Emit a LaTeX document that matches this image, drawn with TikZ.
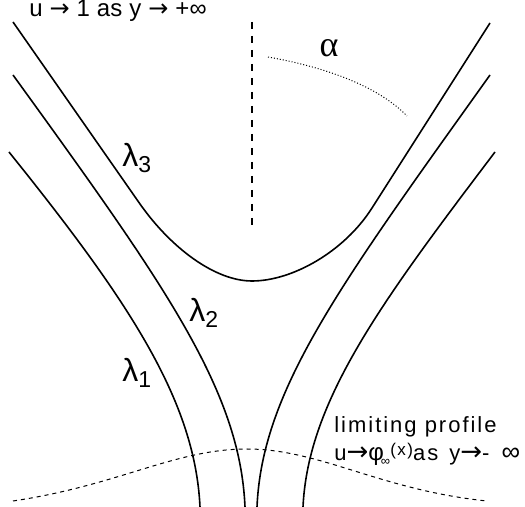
\documentclass[tikz,border=0pt]{standalone}
\usepackage{fontspec}
\usepackage{tikz}
\setmainfont{Liberation Sans}
\newfontfamily\lblfont{Liberation Sans}[LetterSpace=9]
\newfontfamily\topfont{Liberation Sans}[LetterSpace=1]
\newfontfamily\arrfont{DejaVu Sans}
\newfontfamily\grkfont{Liberation Serif}
\newcommand{\toarr}{{\arrfont →}}
\newcommand{\bigarr}{{\arrfont\fontsize{13}{14}\selectfont →}}

\begin{document}
\begin{tikzpicture}[x=0.5pt, y=-0.5pt,
        curve/.style={line width=0.8pt},
        axisline/.style={line width=0.6pt, dash pattern=on 3.5pt off 3.5pt},
        anglearc/.style={line width=0.5pt, dash pattern=on 0.5pt off 1pt},
        profile/.style={line width=0.5pt, dash pattern=on 2pt off 2pt},
        txt/.style={font=\lblfont\fontsize{11}{13}\selectfont, inner sep=0pt},
        lam/.style={font=\fontsize{16}{18}\selectfont, inner sep=0pt, anchor=base west}
    ]
    \useasboundingbox (0,0) rectangle (525,507);

    % ---- LEVEL CURVES ----
    \begin{scope}
        % lambda_3: the U shaped one
        \draw[curve] (13,22) -- (140,204) .. controls (171,248) and (215,281) .. (252,281)
            .. controls (292,281) and (344,252) .. (372,208) -- (490,23);
        % lambda_2
        \draw[curve] (13,75) .. controls (165,285) and (240,390) .. (245,507);
        \draw[curve] (490,75) .. controls (340,285) and (262,390) .. (257,507);
        % lambda_1
        \draw[curve] (9,152) .. controls (128,300) and (195,400) .. (200,507);
        \draw[curve] (495,152) .. controls (383,300) and (308,400) .. (303,507);
    \end{scope}

    % ---- AXIS, ANGLE AND PROFILE ----
    \begin{scope}
        \draw[axisline] (252,22) -- (252,228);
        \draw[anglearc] (268,57) .. controls (330,68) and (380,88) .. (407,116);
        \draw[profile] (13,501) .. controls (120,485) and (175,449) .. (247,449)
            .. controls (320,449) and (380,490) .. (487,501);
    \end{scope}

    % ---- LABELS ----
    \node[inner sep=0pt, anchor=base west, font=\topfont\fontsize{12}{14}\selectfont] (top) at (29,17) {u \toarr{} 1 as y \toarr{} +∞};
    \node[lam] (l3) at (122,167) {λ\raisebox{-3pt}{\fontsize{11.5}{13}\selectfont 3}};
    \node[lam] (l2) at (189,322) {λ\raisebox{-3pt}{\fontsize{11.5}{13}\selectfont 2}};
    \node[lam] (l1) at (122,382) {λ\raisebox{-3pt}{\fontsize{11.5}{13}\selectfont 1}};
    \node[inner sep=0pt, font=\grkfont\fontsize{18}{20}\selectfont] (alpha) at (329,48) {α};
    \node[txt, anchor=base west] (lim1) at (334,433) {limiting profile};
    \node[txt, anchor=base west] (lim2) at (334,461)
        {u\bigarr{\fontsize{12}{13}\selectfont φ}\kern-1.5pt\raisebox{-2.5pt}{\fontsize{6.5}{7}\selectfont ∞}\raisebox{2.5pt}{\fontsize{8.5}{9}\selectfont (x)}as\hspace{1.5pt} y\bigarr -\hspace{6pt}{\fontsize{13}{14}\selectfont ∞}};

\end{tikzpicture}
\end{document}
